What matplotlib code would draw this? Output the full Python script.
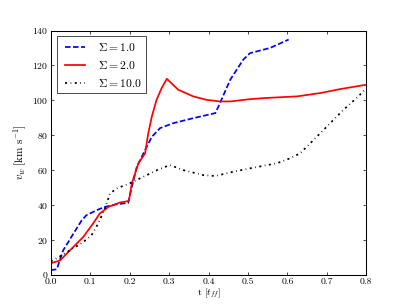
import matplotlib
matplotlib.use('Agg')
import matplotlib.pyplot as plt

# values
t_s1 = [0, 0.015, 0.031, 0.057, 0.078, 0.09, 0.116, 0.137, 0.167, 0.196, 0.205, 0.218,
        0.239, 0.256, 0.277, 0.31, 0.361, 0.417, 0.425, 0.455, 0.488, 0.505, 0.556, 0.603]
v_s1 = [2.5, 3, 13.8, 23.4, 31, 34, 36.9, 38.8, 40.3, 41.1, 50, 61.8,
        71.4, 79, 84, 86.8, 89.7, 92.6, 96.4, 111.8, 123.3, 127, 130, 134.8]

t_s2 = [0, 0.023, 0.048, 0.082, 0.107, 0.124, 0.146, 0.175, 0.198, 0.205, 0.222, 0.239,
        0.247, 0.256, 0.268, 0.281, 0.294, 0.323, 0.361, 0.395, 0.429, 0.455, 0.505, 0.539,
        0.624, 0.683, 0.734, 0.8]
v_s2 = [6.5, 8, 13.8, 21.5, 29.2, 35, 38.8, 41.3, 42.2, 52, 63.8, 69.5,
        81, 90.6, 100.2, 107, 112.3, 106, 102.2, 100.2, 99.3, 99.3, 100.6, 101.2,
        102.2, 104.1, 106.4, 108.9]

t_s10 = [0, 0.023, 0.048, 0.082, 0.103, 0.12, 0.137, 0.15, 0.167, 0.2, 0.243, 0.273, 0.302,
         0.336, 0.387, 0.417, 0.463, 0.505, 0.573, 0.607, 0.632, 0.658, 0.7, 0.742, 0.78, 0.8]
v_s10 = [7.5, 10.4, 13.8, 18.6, 22.5, 29.2, 37.8, 46.5, 49.4, 52.3, 57, 60.3, 62.8,
         59.9, 57, 56.5, 59, 60.9, 63.8, 66.7, 69.5, 75.3, 84.9, 94.5, 102.2, 107]

labels = [r'$\Sigma = 1.0$', r'$\Sigma = 2.0$', r'$\Sigma = 10.0$']
xticks = [0.0, 0.1, 0.2, 0.3, 0.4, 0.5, 0.6, 0.7, 0.8]
xticklabels = ['0.0', '0.1', '0.2', '0.3', '0.4', '0.5', '0.6', '0.7', '0.8']

plt.rcParams['font.family'] = 'cmr10'
plt.rcParams['mathtext.fontset'] = 'cm'
plt.rcParams['axes.formatter.use_mathtext'] = True
plt.rcParams['font.size'] = 14
plt.rcParams['lines.scale_dashes'] = False

fig, ax = plt.subplots(figsize=(8.14, 6.1), dpi=50)
fig.subplots_adjust(left=0.125, right=0.9, bottom=0.1, top=0.9)

ax.plot(t_s1, v_s1, color='b', lw=2.5, ls=(0, (8, 3.5)), label=labels[0])
ax.plot(t_s2, v_s2, color='r', lw=2.5, ls='-', label=labels[1])
ax.plot(t_s10, v_s10, color='k', lw=2.5, ls=(0, (3, 5, 1, 5)), label=labels[2])

ax.set_xlim(0, 0.8)
ax.set_ylim(0, 140)
ax.set_xticks(xticks)
ax.set_xticklabels(xticklabels)
ax.set_yticks(range(0, 141, 20))
ax.tick_params(direction='in', top=True, right=True, length=5, width=1, pad=4)
for s in ax.spines.values():
    s.set_linewidth(1.5)

ax.set_xlabel(r't [$t_{ff}$]', labelpad=2)
ax.set_ylabel(r'$v_w\ [\mathrm{km\ s^{-1}}]$', fontsize=16, labelpad=4)

leg = ax.legend(loc='upper left', fancybox=False, framealpha=1, edgecolor='k',
                fontsize='large', numpoints=2, handlelength=2.3, handletextpad=0.8,
                borderaxespad=0.5)
leg.get_frame().set_linewidth(1)

fig.savefig('out.png', dpi=50)
